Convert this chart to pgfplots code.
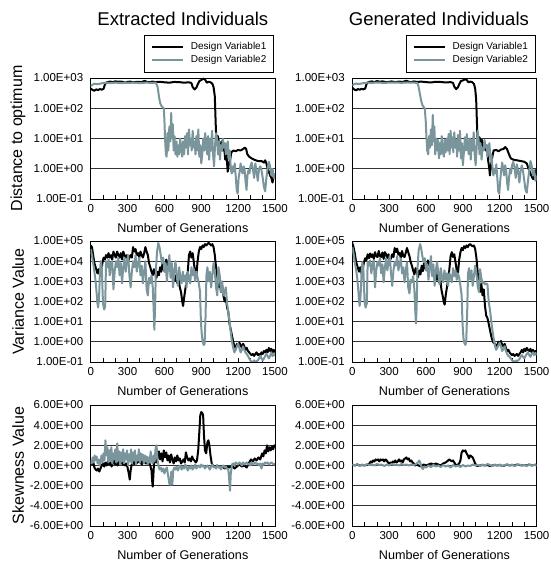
\documentclass[border=0pt]{standalone}
\usepackage{fontspec}
\setmainfont{Liberation Sans}
\usepackage{pgfplots}
\pgfplotsset{compat=1.18}
\definecolor{dvgray}{RGB}{122,150,156}
\pgfplotsset{
  panel/.style={
    scale only axis, width=184.3pt, height=121pt,
    xmin=0, xmax=1500,
    xtick={0,300,600,900,1200,1500},
    xticklabels={0,300,600,900,1200,1500},
    minor xtick={100,200,400,500,700,800,1000,1100,1300,1400},
    xtick pos=bottom, ytick pos=left,
    tick align=inside,
    major tick length=4pt, minor tick length=4pt,
    tick style={black, line width=0.7pt},
    ytick style={draw=none},
    yminorticks=false,
    ymajorgrids,
    major grid style={black!80, line width=0.7pt},
    axis line style={black, line width=0.8pt},
    tick label style={font=\fontsize{11.5}{12}\selectfont},
    xticklabel style={yshift=-2pt},
    yticklabel style={xshift=-4pt},
    xlabel={Number of Generations},
    xlabel style={at={(axis description cs:0.5,-0.24)}, anchor=center, font=\fontsize{12.6}{14}\selectfont},
    ylabel style={at={(axis description cs:-0.394,0.5)}, anchor=center, font=\fontsize{16}{18}\selectfont},
    title style={at={(axis description cs:0.5,1.435)}, anchor=center, font=\fontsize{18.5}{20}\selectfont},
    legend style={at={(axis description cs:0.995,1.358)}, anchor=north east, draw=black, line width=0.6pt,
      font=\fontsize{10}{11}\selectfont, inner xsep=6.4pt, inner ysep=6.2pt, row sep=1.6pt, column sep=5.5pt,
      nodes={inner sep=1pt, text height=7.5pt, text depth=2pt}},
    legend cell align=left,
    legend image code/.code={\draw[#1, line width=2.6pt] (0pt,0pt) -- (31pt,0pt);},
    /pgf/number format/assume math mode=true,
  },
  dv1/.style={black, line width=2pt, line join=round},
  dv2/.style={dvgray, line width=2pt, line join=round},
}
\begin{document}
\begin{tikzpicture}
\path[use as bounding box] (0,0) rectangle (550pt,565pt);

% ---------- Row 1, left: Distance, Extracted
\begin{axis}[panel, ymode=log, ymin=0.1, ymax=1000, ytick={0.1,1,10,100,1000},
    yticklabels={1.00E-01,1.00E+00,1.00E+01,1.00E+02,1.00E+03},
  at={(90.7pt,366pt)}, anchor=south west,
  title={Extracted Individuals}, ylabel={Distance to optimum}]
\addplot[dv1] coordinates {(0,450)(15,400)(30,380)(45,420)(60,400)(75,430)(90,410)(105,440)(115,600)(125,700)(140,740)(160,760)(180,720)(200,780)(220,750)(250,760)(280,700)(300,740)(320,760)(350,720)(380,750)(410,730)(440,800)(460,740)(480,720)(500,760)(530,730)(560,750)(600,720)(640,700)(680,740)(720,730)(760,700)(800,720)(820,680)(830,500)(845,420)(860,480)(870,600)(885,800)(900,850)(915,950)(930,900)(945,700)(960,750)(975,720)(990,650)(1000,500)(1010,250)(1015,60)(1020,15)(1025,9)(1035,12)(1045,7)(1055,5)(1065,8)(1075,4)(1085,6)(1095,2)(1105,3)(1115,0.8)(1125,1.5)(1135,2)(1145,3.5)(1160,4)(1180,3.8)(1200,4.2)(1220,4)(1240,4.5)(1255,5)(1265,4.5)(1275,3)(1290,2.5)(1310,2.2)(1330,2)(1360,1.8)(1390,1.8)(1410,1.6)(1420,1.9)(1430,1.5)(1440,1.0)(1450,0.8)(1460,0.6)(1470,0.5)(1480,0.35)(1490,0.6)(1500,0.5)};
\addplot[dv2] coordinates {(0,550)(15,600)(30,650)(50,620)(70,640)(100,680)(130,700)(160,680)(200,700)(250,680)(300,690)(350,700)(400,680)(450,700)(500,690)(530,700)(545,500)(555,250)(565,150)(575,120)(585,110)(595,100)(600,40)(605,10)(612,3)(618,2.5)(625,15)(632,4)(640,25)(648,8)(655,70)(662,10)(668,30)(675,4)(682,12)(690,3)(698,8)(705,2.5)(712,6)(720,3)(728,10)(736,5)(745,2.5)(752,8)(760,3)(768,12)(776,5)(784,15)(792,3)(800,20)(808,6)(815,10)(822,4)(830,18)(838,5)(846,8)(853,3)(860,12)(868,4)(876,20)(884,2.5)(892,6)(900,1.5)(908,3)(916,10)(924,4)(932,15)(940,6)(948,3)(956,12)(964,2)(972,10)(980,4)(988,18)(996,3)(1004,1.2)(1012,6)(1020,15)(1028,10)(1036,3)(1044,8)(1052,2)(1060,6)(1068,4)(1076,10)(1084,5)(1092,7)(1100,3)(1108,6)(1116,8)(1124,2)(1132,4)(1140,1)(1148,0.7)(1156,1.2)(1164,0.8)(1172,1.5)(1180,0.6)(1188,0.2)(1196,0.15)(1204,0.5)(1212,0.8)(1220,1.5)(1228,0.9)(1236,0.7)(1244,1.2)(1252,1.0)(1260,0.4)(1268,0.2)(1276,0.6)(1284,0.9)(1292,0.7)(1300,1.2)(1310,1.6)(1320,1.0)(1330,0.5)(1340,1.5)(1350,0.8)(1360,0.4)(1370,1.0)(1380,1.2)(1390,0.9)(1400,0.5)(1410,0.25)(1420,0.18)(1430,0.5)(1440,1.0)(1450,1.7)(1460,1.2)(1470,0.6)(1480,1.0)(1490,0.5)(1500,0.7)};
\legend{Design Variable1,Design Variable2}
\end{axis}

% ---------- Row 1, right: Distance, Generated
\begin{axis}[panel, ymode=log, ymin=0.1, ymax=1000, ytick={0.1,1,10,100,1000},
    yticklabels={1.00E-01,1.00E+00,1.00E+01,1.00E+02,1.00E+03},
  at={(352.3pt,366pt)}, anchor=south west,
  title={Generated Individuals}, title style={at={(axis description cs:0.47,1.435)}}]
\addplot[dv1] coordinates {(0,480)(15,420)(30,390)(45,430)(60,410)(75,440)(90,420)(105,450)(115,620)(125,710)(140,750)(160,770)(180,730)(200,790)(220,760)(250,770)(280,720)(300,750)(320,770)(350,730)(380,760)(410,740)(440,810)(460,750)(480,730)(500,770)(530,740)(560,760)(600,730)(640,710)(680,750)(720,740)(760,710)(800,730)(820,690)(830,520)(845,430)(860,490)(870,620)(885,800)(900,830)(915,900)(930,880)(945,720)(960,760)(975,730)(990,640)(1000,450)(1008,200)(1013,50)(1018,12)(1025,8)(1035,11)(1045,6)(1055,9)(1065,5)(1075,7)(1085,4)(1095,6)(1105,2)(1115,1)(1120,0.6)(1128,1.2)(1140,2.5)(1150,4)(1170,4.2)(1190,3.8)(1210,4.3)(1230,4.5)(1245,5.2)(1260,4.4)(1275,3)(1290,2.2)(1310,2)(1340,1.9)(1370,1.8)(1400,1.7)(1420,1.5)(1435,1.0)(1450,0.7)(1465,0.5)(1475,0.45)(1485,0.7)(1495,0.9)(1500,0.8)};
\addplot[dv2] coordinates {(0,580)(15,620)(30,660)(50,630)(70,650)(100,690)(130,700)(160,690)(200,710)(250,690)(300,700)(350,710)(400,690)(450,710)(500,700)(530,690)(540,500)(550,300)(560,180)(570,130)(580,110)(590,100)(598,35)(604,10)(610,4)(618,3)(625,12)(632,5)(640,20)(648,6)(655,60)(662,8)(668,25)(675,3)(682,10)(690,4)(698,9)(705,2.2)(712,7)(720,3)(728,12)(736,4)(745,2.5)(752,9)(760,3.5)(768,10)(776,4)(784,14)(792,3)(800,18)(808,5)(815,11)(822,3.5)(830,16)(838,5)(846,9)(853,2.5)(860,13)(868,4)(876,18)(884,2.2)(892,7)(900,1.3)(908,3.5)(916,11)(924,4)(932,14)(940,5)(948,3)(956,10)(964,2)(972,9)(980,4)(988,16)(996,3)(1004,1.3)(1012,5)(1020,18)(1028,9)(1036,3)(1044,7)(1052,2)(1060,5)(1068,4)(1076,9)(1084,5)(1092,6)(1100,2.5)(1108,5)(1116,7)(1124,2)(1132,3)(1140,1.2)(1148,0.6)(1156,1.0)(1164,0.7)(1172,1.4)(1180,0.5)(1188,0.18)(1196,0.15)(1204,0.4)(1212,0.9)(1220,1.6)(1228,1.0)(1236,0.6)(1244,1.3)(1252,0.9)(1260,0.35)(1268,0.2)(1276,0.5)(1284,1.0)(1292,0.7)(1300,1.3)(1310,1.7)(1320,1.1)(1330,0.5)(1340,1.4)(1350,0.8)(1360,0.35)(1370,0.9)(1380,1.3)(1390,0.8)(1400,0.4)(1410,0.2)(1420,0.16)(1430,0.4)(1440,0.9)(1450,1.8)(1460,1.3)(1470,0.6)(1480,0.9)(1490,0.4)(1500,0.6)};
\legend{Design Variable1,Design Variable2}
\end{axis}

% ---------- Row 2, left: Variance, Extracted
\begin{axis}[panel, ymode=log, ymin=0.1, ymax=100000, ytick={0.1,1,10,100,1000,10000,100000},
    yticklabels={1.00E-01,1.00E+00,1.00E+01,1.00E+02,1.00E+03,1.00E+04,1.00E+05},
  at={(90.7pt,203pt)}, anchor=south west, ylabel={Variance Value}]
\addplot[dv1] coordinates {(0,60000)(10,50000)(20,20000)(30,8000)(40,5000)(55,2500)(65,4000)(75,2000)(85,3000)(95,8000)(105,15000)(115,12000)(125,20000)(135,15000)(145,25000)(155,15000)(165,20000)(175,12000)(185,30000)(195,20000)(205,15000)(215,30000)(225,20000)(235,15000)(245,25000)(255,12000)(265,30000)(275,20000)(285,15000)(295,20000)(305,10000)(315,15000)(325,20000)(335,15000)(345,50000)(355,30000)(365,40000)(375,20000)(385,25000)(395,15000)(405,30000)(415,20000)(425,15000)(435,25000)(445,50000)(455,30000)(465,20000)(475,8000)(485,5000)(495,3000)(505,2000)(515,4000)(525,2500)(535,1500)(545,3000)(555,2000)(565,5000)(575,3000)(585,8000)(595,4000)(605,3000)(615,12000)(625,6000)(635,10000)(645,5000)(655,3000)(665,1500)(675,3000)(685,1000)(695,2000)(705,800)(715,1500)(725,500)(735,300)(745,100)(752,60)(760,150)(770,400)(780,1000)(790,3000)(800,20000)(810,30000)(820,15000)(830,25000)(840,8000)(850,3000)(860,2000)(870,10000)(880,30000)(890,50000)(900,40000)(910,60000)(920,50000)(930,70000)(940,60000)(950,70000)(960,80000)(970,70000)(980,60000)(990,70000)(1000,50000)(1010,20000)(1020,5000)(1030,2000)(1040,500)(1050,1000)(1060,300)(1070,600)(1080,200)(1090,100)(1100,150)(1110,50)(1120,30)(1130,8)(1140,4)(1150,2)(1160,1)(1170,0.6)(1180,0.5)(1190,0.8)(1200,0.6)(1210,0.9)(1220,0.7)(1230,0.5)(1240,0.8)(1250,0.6)(1260,0.4)(1270,0.5)(1280,0.35)(1290,0.3)(1300,0.25)(1310,0.22)(1320,0.25)(1330,0.2)(1340,0.25)(1350,0.3)(1360,0.22)(1370,0.25)(1380,0.2)(1390,0.3)(1400,0.25)(1410,0.35)(1420,0.3)(1430,0.4)(1440,0.3)(1450,0.5)(1460,0.35)(1470,0.45)(1480,0.3)(1490,0.4)(1500,0.3)};
\addplot[dv2] coordinates {(0,40000)(10,20000)(20,8000)(30,3000)(40,1000)(50,200)(55,80)(60,50)(65,100)(70,300)(75,3000)(82,10000)(90,5000)(100,80)(110,40)(118,60)(125,10000)(135,5000)(145,12000)(155,2000)(165,8000)(175,10000)(185,400)(195,3000)(205,10000)(215,5000)(225,15000)(235,2000)(245,8000)(255,800)(265,5000)(275,15000)(285,3000)(295,10000)(305,20000)(315,2000)(325,500)(335,3000)(345,10000)(355,5000)(365,20000)(375,3000)(385,8000)(395,15000)(405,2000)(415,6000)(425,800)(435,3000)(445,10000)(455,400)(465,200)(475,1500)(485,800)(495,2000)(505,500)(512,50)(518,4)(524,50)(530,3000)(540,30000)(550,80000)(560,50000)(570,20000)(580,8000)(590,15000)(600,3000)(610,8000)(620,1000)(630,5000)(640,20000)(650,1500)(660,8000)(670,500)(680,3000)(690,10000)(700,2000)(710,600)(720,5000)(730,1500)(740,800)(750,3000)(760,1000)(770,2000)(780,500)(790,3000)(800,1500)(810,800)(820,5000)(830,2000)(840,4000)(850,1000)(860,3000)(870,1500)(880,800)(890,300)(897,10)(905,2)(912,1)(920,0.7)(927,0.8)(935,20)(942,2000)(950,5000)(960,1000)(970,3000)(980,500)(990,2000)(1000,8000)(1010,3000)(1020,500)(1030,200)(1040,5000)(1050,2000)(1060,300)(1070,1000)(1080,200)(1090,300)(1100,500)(1110,80)(1120,30)(1130,10)(1140,3)(1150,1)(1160,0.5)(1170,0.3)(1180,0.4)(1190,0.6)(1200,0.8)(1210,0.5)(1220,0.3)(1230,0.4)(1240,0.6)(1250,0.4)(1260,0.3)(1270,0.25)(1280,0.2)(1290,0.15)(1300,0.12)(1310,0.1)(1320,0.1)(1330,0.12)(1340,0.1)(1350,0.11)(1360,0.12)(1370,0.15)(1380,0.2)(1390,0.15)(1400,0.12)(1410,0.15)(1420,0.2)(1430,0.25)(1440,0.2)(1450,0.15)(1460,0.2)(1470,0.3)(1480,0.2)(1490,0.25)(1500,0.2)};
\end{axis}

% ---------- Row 2, right: Variance, Generated
\begin{axis}[panel, ymode=log, ymin=0.1, ymax=100000, ytick={0.1,1,10,100,1000,10000,100000},
    yticklabels={1.00E-01,1.00E+00,1.00E+01,1.00E+02,1.00E+03,1.00E+04,1.00E+05},
  at={(352.3pt,203pt)}, anchor=south west]
\addplot[dv1] coordinates {(0,80000)(10,50000)(20,25000)(30,10000)(40,6000)(55,3000)(65,5000)(75,2500)(85,4000)(95,9000)(105,14000)(115,11000)(125,22000)(135,14000)(145,24000)(155,16000)(165,22000)(175,13000)(185,28000)(195,18000)(205,16000)(215,32000)(225,18000)(235,16000)(245,27000)(255,13000)(265,28000)(275,22000)(285,14000)(295,22000)(305,11000)(315,14000)(325,22000)(335,16000)(345,45000)(355,28000)(365,42000)(375,21000)(385,26000)(395,14000)(405,32000)(415,18000)(425,16000)(435,26000)(445,45000)(455,28000)(465,18000)(475,9000)(485,6000)(495,3500)(505,2200)(515,4500)(525,2800)(535,1600)(545,3500)(555,2200)(565,6000)(575,3200)(585,9000)(595,4500)(605,3500)(615,11000)(625,6500)(635,9000)(645,5500)(655,3200)(665,1600)(675,3500)(685,1200)(695,2200)(705,900)(715,1600)(725,400)(735,200)(745,90)(752,70)(760,200)(770,500)(780,1200)(790,4000)(800,18000)(810,28000)(820,16000)(830,22000)(840,9000)(850,3500)(860,2500)(870,12000)(880,28000)(890,45000)(900,35000)(910,55000)(920,45000)(930,60000)(940,50000)(950,65000)(960,70000)(970,60000)(980,55000)(990,60000)(1000,40000)(1010,15000)(1020,3000)(1030,500)(1040,300)(1050,800)(1060,200)(1070,400)(1080,60)(1090,20)(1100,15)(1110,8)(1120,4)(1130,2)(1140,1.2)(1150,0.9)(1160,0.8)(1170,0.6)(1180,0.7)(1190,1.0)(1200,0.8)(1210,1.1)(1220,0.7)(1230,0.6)(1240,0.8)(1250,0.5)(1260,0.35)(1270,0.4)(1280,0.3)(1290,0.25)(1300,0.22)(1310,0.25)(1320,0.2)(1330,0.22)(1340,0.25)(1350,0.2)(1360,0.25)(1370,0.3)(1380,0.4)(1390,0.3)(1400,0.45)(1410,0.35)(1420,0.5)(1430,0.4)(1440,0.35)(1450,0.45)(1460,0.3)(1470,0.4)(1480,0.3)(1490,0.35)(1500,0.3)};
\addplot[dv2] coordinates {(0,50000)(10,25000)(20,9000)(30,4000)(40,1500)(50,300)(55,100)(60,60)(65,120)(70,400)(75,2500)(82,9000)(90,4000)(100,100)(108,50)(118,80)(125,9000)(135,6000)(145,11000)(155,2500)(165,7000)(175,11000)(185,500)(195,3500)(205,9000)(215,6000)(225,14000)(235,2500)(245,7000)(255,900)(265,4500)(275,14000)(285,3500)(295,9000)(305,18000)(315,2500)(325,600)(335,3500)(345,9000)(355,6000)(365,18000)(375,3500)(385,7000)(395,14000)(405,2500)(415,5000)(425,900)(435,3500)(445,9000)(455,500)(465,250)(475,1200)(485,900)(495,1800)(505,400)(512,40)(518,8)(524,60)(530,3500)(540,35000)(552,70000)(560,45000)(570,18000)(580,9000)(590,14000)(600,3500)(610,7000)(620,1200)(630,4500)(640,18000)(650,1800)(660,7000)(670,600)(680,3500)(690,9000)(700,2500)(710,700)(720,4500)(730,1800)(740,900)(750,3500)(760,1200)(770,2500)(780,600)(790,2500)(800,1800)(810,900)(820,4500)(830,1800)(840,3500)(850,1200)(860,2500)(870,1500)(880,600)(890,200)(897,8)(905,1.5)(912,0.9)(920,0.7)(927,1.0)(935,30)(942,2500)(950,4500)(960,1200)(970,3500)(980,600)(990,1800)(1000,6000)(1010,2500)(1020,600)(1030,300)(1040,4000)(1050,1500)(1060,800)(1070,900)(1080,700)(1090,800)(1100,700)(1110,100)(1120,40)(1130,12)(1140,4)(1150,1.5)(1160,0.7)(1170,0.4)(1180,0.5)(1190,0.7)(1200,0.9)(1210,0.6)(1220,0.35)(1230,0.45)(1240,0.6)(1250,0.35)(1260,0.25)(1270,0.2)(1280,0.18)(1290,0.15)(1300,0.12)(1310,0.11)(1320,0.1)(1330,0.12)(1340,0.11)(1350,0.12)(1360,0.14)(1370,0.18)(1380,0.22)(1390,0.18)(1400,0.15)(1410,0.2)(1420,0.25)(1430,0.3)(1440,0.22)(1450,0.18)(1460,0.25)(1470,0.3)(1480,0.22)(1490,0.28)(1500,0.22)};
\end{axis}

% ---------- Row 3, left: Skewness, Extracted
\begin{axis}[panel, ymin=-6, ymax=6, ytick={-6,-4,-2,0,2,4,6},
    yticklabels={-6.00E+00,-4.00E+00,-2.00E+00,0.00E+00,2.00E+00,4.00E+00,6.00E+00},
  at={(90.7pt,39pt)}, anchor=south west, ylabel={Skewness Value}]
\addplot[dv1] coordinates {(0,0.3)(10,0.1)(20,0.4)(30,-0.2)(40,-0.4)(50,-0.5)(60,-0.3)(70,-0.6)(80,-0.3)(90,0.0)(100,0.2)(110,-0.1)(120,0.3)(130,0.0)(140,0.4)(150,0.1)(160,0.3)(170,-0.1)(180,0.2)(190,0.5)(200,0.1)(210,0.3)(220,0.0)(230,0.4)(240,0.2)(250,0.5)(260,0.1)(270,0.3)(280,0.0)(290,0.2)(300,-0.2)(310,-0.8)(318,-1.4)(325,-0.5)(335,0.2)(345,0.5)(355,0.1)(365,0.4)(375,0.2)(385,0.6)(395,0.3)(405,0.5)(415,0.1)(425,0.3)(435,0.6)(445,0.2)(455,0.4)(465,0.1)(475,0.3)(485,0.0)(495,-0.5)(500,-1.5)(505,-2.1)(510,-1.0)(515,0.2)(525,0.5)(535,0.3)(545,0.8)(555,1.4)(565,0.6)(575,1.2)(585,0.4)(595,1.5)(605,0.8)(615,1.3)(625,0.5)(635,1.0)(645,0.3)(655,1.1)(665,0.6)(675,0.2)(685,0.8)(695,0.4)(705,1.0)(715,0.5)(725,0.7)(735,0.2)(745,0.4)(755,0.6)(765,0.3)(775,1.3)(785,0.8)(795,0.5)(805,0.7)(815,0.4)(825,0.9)(835,0.6)(845,0.5)(855,0.3)(865,0.5)(875,1.5)(885,3.5)(892,5.0)(900,5.3)(908,5.2)(915,5.0)(922,3.0)(930,1.5)(940,1.2)(950,2.3)(958,2.5)(966,2.0)(975,1.0)(985,0.2)(995,0.0)(1010,-0.1)(1030,0.0)(1050,-0.2)(1070,-0.1)(1090,-0.3)(1110,-0.1)(1130,-0.2)(1150,0.0)(1170,-0.3)(1190,-0.1)(1210,0.1)(1230,-0.1)(1250,0.0)(1270,-0.2)(1290,0.3)(1305,0.6)(1320,0.4)(1335,0.7)(1350,0.5)(1365,0.8)(1380,0.6)(1395,1.2)(1405,0.9)(1415,1.5)(1425,1.2)(1435,2.0)(1445,1.4)(1455,1.8)(1465,1.5)(1475,1.9)(1485,1.6)(1495,2.0)(1500,1.9)};
\addplot[dv2] coordinates {(0,0.5)(8,0.2)(16,0.8)(24,0.3)(32,1.0)(40,0.5)(48,0.9)(56,0.2)(64,0.6)(72,0.0)(80,0.4)(88,1.0)(96,0.3)(104,1.2)(112,0.5)(120,2.5)(128,1.0)(136,1.8)(144,0.3)(152,1.5)(160,0.5)(168,1.8)(176,0.2)(184,1.2)(192,0.6)(200,1.6)(208,0.3)(216,2.2)(224,0.5)(232,1.4)(240,0.1)(248,1.3)(256,0.4)(264,1.6)(272,0.2)(280,1.2)(288,0.6)(296,1.5)(304,0.0)(312,1.1)(320,0.4)(328,1.6)(336,0.2)(344,1.3)(352,0.5)(360,1.5)(368,0.1)(376,1.0)(384,0.5)(392,1.6)(400,0.3)(408,1.2)(416,0.6)(424,1.1)(432,0.2)(440,1.0)(448,0.4)(456,0.9)(464,0.1)(472,0.8)(480,0.3)(488,1.4)(496,0.5)(504,0.2)(512,1.0)(520,0.4)(528,1.7)(536,2.0)(544,0.5)(552,0.0)(560,-0.4)(570,-0.2)(580,-0.6)(590,-0.3)(600,-0.8)(610,-0.4)(620,-0.2)(630,-1.0)(640,-1.8)(648,-1.9)(656,-0.6)(664,-1.9)(672,-0.5)(680,-0.2)(690,-0.4)(700,-0.1)(710,-0.5)(720,-0.2)(730,0.0)(740,-0.4)(750,-0.1)(760,-0.3)(770,0.1)(780,-0.2)(790,-0.5)(800,-0.1)(810,-0.3)(820,0.0)(830,-0.4)(840,-0.2)(850,0.1)(860,-0.3)(870,-0.1)(880,0.0)(890,-0.2)(900,0.1)(910,-0.1)(920,0.0)(930,-0.3)(940,-0.1)(950,0.0)(960,-0.2)(970,-0.4)(980,-0.1)(990,0.1)(1000,-0.2)(1010,-0.1)(1020,-0.3)(1030,0.0)(1040,-0.2)(1050,-0.1)(1060,-0.4)(1070,-0.1)(1080,0.0)(1090,-0.2)(1100,-0.1)(1110,-0.3)(1120,-0.4)(1128,-1.5)(1134,-2.5)(1140,-0.8)(1150,0.1)(1160,0.2)(1170,0.0)(1180,0.3)(1190,0.2)(1200,0.1)(1210,0.3)(1220,0.2)(1230,0.0)(1240,0.3)(1250,0.1)(1260,0.2)(1270,0.3)(1280,0.1)(1290,0.2)(1300,0.0)(1310,0.3)(1320,0.1)(1330,0.2)(1340,0.3)(1350,0.1)(1360,0.2)(1370,0.0)(1380,0.2)(1390,-0.3)(1400,0.2)(1410,0.1)(1420,0.3)(1430,0.2)(1440,0.3)(1450,0.1)(1460,0.2)(1470,0.3)(1480,0.2)(1490,0.1)(1500,0.2)};
\end{axis}

% ---------- Row 3, right: Skewness, Generated
\begin{axis}[panel, ymin=-6, ymax=6, ytick={-6,-4,-2,0,2,4,6},
    yticklabels={-6.00E+00,-4.00E+00,-2.00E+00,0.00E+00,2.00E+00,4.00E+00,6.00E+00},
  at={(352.3pt,39pt)}, anchor=south west]
\addplot[dv1] coordinates {(0,0.1)(20,0.0)(40,0.1)(60,0.0)(80,0.05)(100,0.0)(120,0.1)(140,0.2)(150,0.4)(160,0.3)(170,0.5)(180,0.4)(190,0.6)(200,0.5)(210,0.6)(220,0.4)(230,0.6)(240,0.5)(250,0.6)(260,0.4)(270,0.6)(280,0.5)(290,0.3)(300,0.2)(310,0.3)(320,0.2)(330,0.4)(340,0.3)(350,0.5)(360,0.3)(370,0.4)(380,0.6)(390,0.4)(400,0.5)(410,0.3)(420,0.6)(430,0.7)(440,0.8)(450,0.6)(460,0.7)(470,0.4)(480,0.5)(490,0.3)(500,0.2)(510,0.0)(520,0.1)(540,0.0)(560,-0.1)(580,0.1)(600,0.0)(620,0.1)(640,0.2)(660,0.1)(680,0.2)(700,0.1)(720,0.0)(740,0.2)(760,0.3)(780,0.5)(790,0.6)(800,0.5)(810,0.4)(820,0.5)(830,0.3)(840,0.1)(850,0.0)(860,0.1)(870,0.2)(880,0.5)(890,1.3)(900,1.5)(910,1.4)(920,1.5)(930,1.2)(940,1.0)(950,0.7)(960,1.0)(970,0.9)(980,0.8)(990,0.5)(1000,0.2)(1010,0.0)(1020,-0.05)(1040,0.0)(1060,0.05)(1080,0.0)(1100,0.05)(1120,-0.05)(1140,0.0)(1160,0.05)(1180,0.0)(1200,0.05)(1220,-0.05)(1240,0.0)(1260,0.1)(1280,0.0)(1300,0.05)(1320,0.0)(1340,0.1)(1360,0.05)(1380,0.0)(1400,0.05)(1420,0.0)(1440,0.1)(1460,0.0)(1480,0.05)(1500,0.1)};
\addplot[dv2] coordinates {(0,0.1)(20,0.0)(40,0.15)(60,-0.05)(80,0.1)(100,0.0)(120,0.15)(140,0.05)(160,0.1)(180,0.0)(200,0.15)(220,0.05)(240,0.1)(260,-0.05)(280,0.1)(300,0.0)(320,0.15)(340,0.05)(360,0.1)(380,0.0)(400,0.15)(420,0.05)(440,0.1)(460,0.0)(480,0.1)(500,0.05)(520,0.15)(535,0.3)(545,0.5)(555,0.2)(565,-0.2)(575,-0.35)(585,-0.1)(600,-0.2)(620,0.0)(640,-0.15)(660,0.05)(680,-0.1)(700,0.0)(720,-0.15)(740,0.05)(760,-0.1)(780,0.0)(800,-0.2)(820,0.05)(840,-0.1)(860,0.0)(880,-0.15)(900,0.05)(920,-0.1)(940,0.0)(960,-0.05)(980,0.1)(1000,0.0)(1020,0.05)(1040,-0.05)(1060,0.1)(1080,0.0)(1100,0.15)(1120,0.05)(1140,-0.05)(1160,0.1)(1180,0.0)(1200,0.1)(1220,-0.05)(1240,0.05)(1260,0.1)(1280,0.0)(1300,0.1)(1320,-0.05)(1340,0.05)(1360,0.1)(1380,0.0)(1400,0.05)(1420,-0.05)(1440,0.1)(1460,0.0)(1480,0.05)(1500,0.0)};
\end{axis}
\end{tikzpicture}
\end{document}
